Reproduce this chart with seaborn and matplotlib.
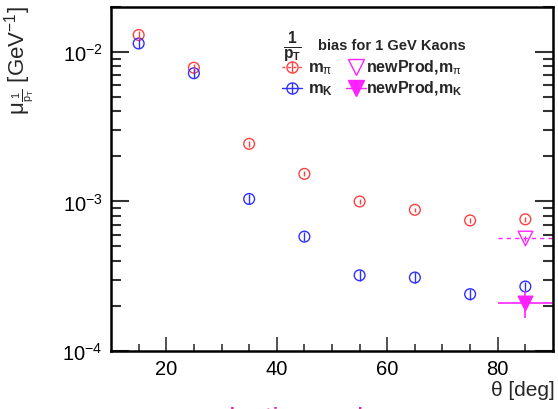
import numpy as np
import pandas as pd
import matplotlib
matplotlib.use("Agg")
import matplotlib.pyplot as plt
import seaborn as sns

# ---------------- data ----------------
theta = [15, 25, 35, 45, 55, 65, 75, 85]
m_pi = [0.0130, 0.00785, 0.00243, 0.00153, 0.00100, 0.00088, 0.000747, 0.00076]
m_pi_err = [0.0008, 0.0005, 0.00010, 0.00006, 0.00004, 0.00003, 0.00003, 0.00003]
m_K = [0.0114, 0.00721, 0.00104, 0.000582, 0.000321, 0.00031, 0.00024, 0.00027]
m_K_err = [0.0008, 0.0005, 0.00008, 0.00004, 0.000025, 0.000025, 0.00002, 0.00002]

new_theta = [85]
new_theta_err = [5]
new_m_pi = [0.000567]
new_m_pi_err = [0.00002]
new_m_K = [0.000208]
new_m_K_err = [0.000043]

xticks = [20, 40, 60, 80]

# ---------------- style ----------------
sns.set_style("ticks")
plt.rcParams["font.family"] = ["Liberation Sans", "DejaVu Sans"]
plt.rcParams["mathtext.fontset"] = "custom"
plt.rcParams["mathtext.rm"] = "Liberation Sans"
plt.rcParams["mathtext.it"] = "Liberation Sans:italic"
plt.rcParams["mathtext.bf"] = "Liberation Sans:bold"
plt.rcParams["mathtext.sf"] = "Liberation Sans"

RED = "#ff4040"
BLUE = "#3030ff"
MAG = "#ff22ff"

fig = plt.figure(figsize=(5.58, 4.10), dpi=100)
ax = fig.add_axes([0.199, 0.1415, 0.792, 0.839])

df = pd.DataFrame({
    "theta": theta * 2,
    "val": m_pi + m_K,
    "series": ["m_pi"] * len(theta) + ["m_K"] * len(theta),
})

ax.errorbar(theta, m_pi, yerr=m_pi_err, fmt="none", ecolor=RED, elinewidth=1.0, capsize=0)
ax.errorbar(theta, m_K, yerr=m_K_err, fmt="none", ecolor=BLUE, elinewidth=1.0, capsize=0)

sns.scatterplot(data=df, x="theta", y="val", hue="series",
                palette={"m_pi": RED, "m_K": BLUE}, marker="o",
                s=60, linewidth=1.0, legend=False, ax=ax)
coll = ax.collections[-1]
cols = [RED] * len(theta) + [BLUE] * len(theta)
coll.set_facecolor("none")
coll.set_edgecolor(cols)

# newProd points
eb1 = ax.errorbar(new_theta, new_m_pi, xerr=new_theta_err, yerr=new_m_pi_err, fmt="none",
                  ecolor=MAG, elinewidth=1.0, capsize=0)
eb1[2][0].set_linestyle((0, (3, 3)))
ax.errorbar(new_theta, new_m_K, xerr=new_theta_err, yerr=new_m_K_err, fmt="none",
            ecolor=MAG, elinewidth=1.2, capsize=0)
sns.scatterplot(x=new_theta, y=new_m_pi, marker="v", s=110,
                linewidth=1.0, ax=ax, legend=False)
ax.collections[-1].set_facecolor("white")
ax.collections[-1].set_edgecolor(MAG)
sns.scatterplot(x=new_theta, y=new_m_K, marker="v", s=110, color=MAG,
                edgecolor=MAG, linewidth=1.0, ax=ax, legend=False)

# ---------------- axes ----------------
ax.set_yscale("log")
ax.set_xlim(10, 90)
ax.set_ylim(1e-4, 2e-2)
ax.set_xticks(xticks)
ax.set_xticks(np.arange(15, 90, 5), minor=True)
ax.set_xlabel("")
ax.set_ylabel("")
for s in ax.spines.values():
    s.set_linewidth(1.8)
    s.set_color("black")
ax.tick_params(which="both", direction="in", top=True, right=True, colors="#333333",
               labelcolor="black", labelsize=14.5, pad=6)
ax.tick_params(axis="y", which="major", length=13, width=1.5)
ax.tick_params(axis="y", which="minor", length=7, width=1.5)
ax.tick_params(axis="x", which="major", length=10, width=1.2)
ax.tick_params(axis="x", which="minor", length=5, width=1.2)
ax.tick_params(axis="x", which="both", top=False)

fig.text(0.995, 0.048, "θ [deg]", ha="right", va="center", fontsize=15)
fig.text(0.035, 0.985, r"μ$_{\frac{1}{\mathrm{p}_{\mathrm{T}}}}$ [GeV$^{-1}$]", rotation=90,
         ha="center", va="top", fontsize=16)

# ---------------- legend ----------------
def fx(px):
    return px / 558.0

def fy(py):
    return 1 - py / 410.0

fig.text(fx(283), fy(47), r"$\frac{\mathbf{1}}{\mathbf{p}_{\mathbf{T}}}$", fontsize=16,
         ha="left", va="center")
fig.text(fx(318), fy(46), "bias for 1 GeV Kaons", fontsize=10.5, fontweight="bold",
         ha="left", va="center")

leg_ax = fig.add_axes([0, 0, 1, 1], facecolor="none")
leg_ax.set_xlim(0, 558)
leg_ax.set_ylim(410, 0)
leg_ax.axis("off")
# m_pi entry
leg_ax.plot([282, 302], [68, 68], color=RED, lw=1.0, ls=(0, (2, 2)))
leg_ax.plot([292, 292], [63, 73], color=RED, lw=1.0)
leg_ax.plot([292], [68], marker="o", ms=8, mfc="none", mec=RED, mew=1.0)
fig.text(fx(308), fy(69), r"$\mathbf{m}_{\mathrm{\pi}}$", fontsize=12, ha="left", va="center")
# m_K entry
leg_ax.plot([282, 302], [89, 89], color=BLUE, lw=1.0)
leg_ax.plot([292, 292], [84, 94], color=BLUE, lw=1.0)
leg_ax.plot([292], [89], marker="o", ms=8, mfc="none", mec=BLUE, mew=1.0)
fig.text(fx(308), fy(90), r"$\mathbf{m}_{\mathbf{K}}$", fontsize=12, ha="left", va="center")
# newProd m_pi
leg_ax.plot([356], [68], marker="v", ms=11, mfc="white", mec=MAG, mew=1.0)
fig.text(fx(366), fy(68), r"newProd,m$_{\mathrm{\pi}}$", fontsize=11.5, fontweight="bold",
         ha="left", va="center")
# newProd m_K
leg_ax.plot([346, 366], [89, 89], color=MAG, lw=1.0)
leg_ax.plot([356], [89], marker="v", ms=11, mfc=MAG, mec=MAG, mew=1.0)
fig.text(fx(366), fy(89), r"newProd,m$_{\mathbf{K}}$", fontsize=11.5, fontweight="bold",
         ha="left", va="center")

# slide text at the very bottom, mostly below the picture edge
fig.text(fx(16), fy(407.5), "▶", color="#f5a020", fontsize=14, ha="left", va="top",
         family=["DejaVu Sans"])
fig.text(fx(200), fy(407.5), "selection and", color="#e8209a", fontsize=20,
         ha="left", va="top")

fig.savefig("out.png", dpi=100)
